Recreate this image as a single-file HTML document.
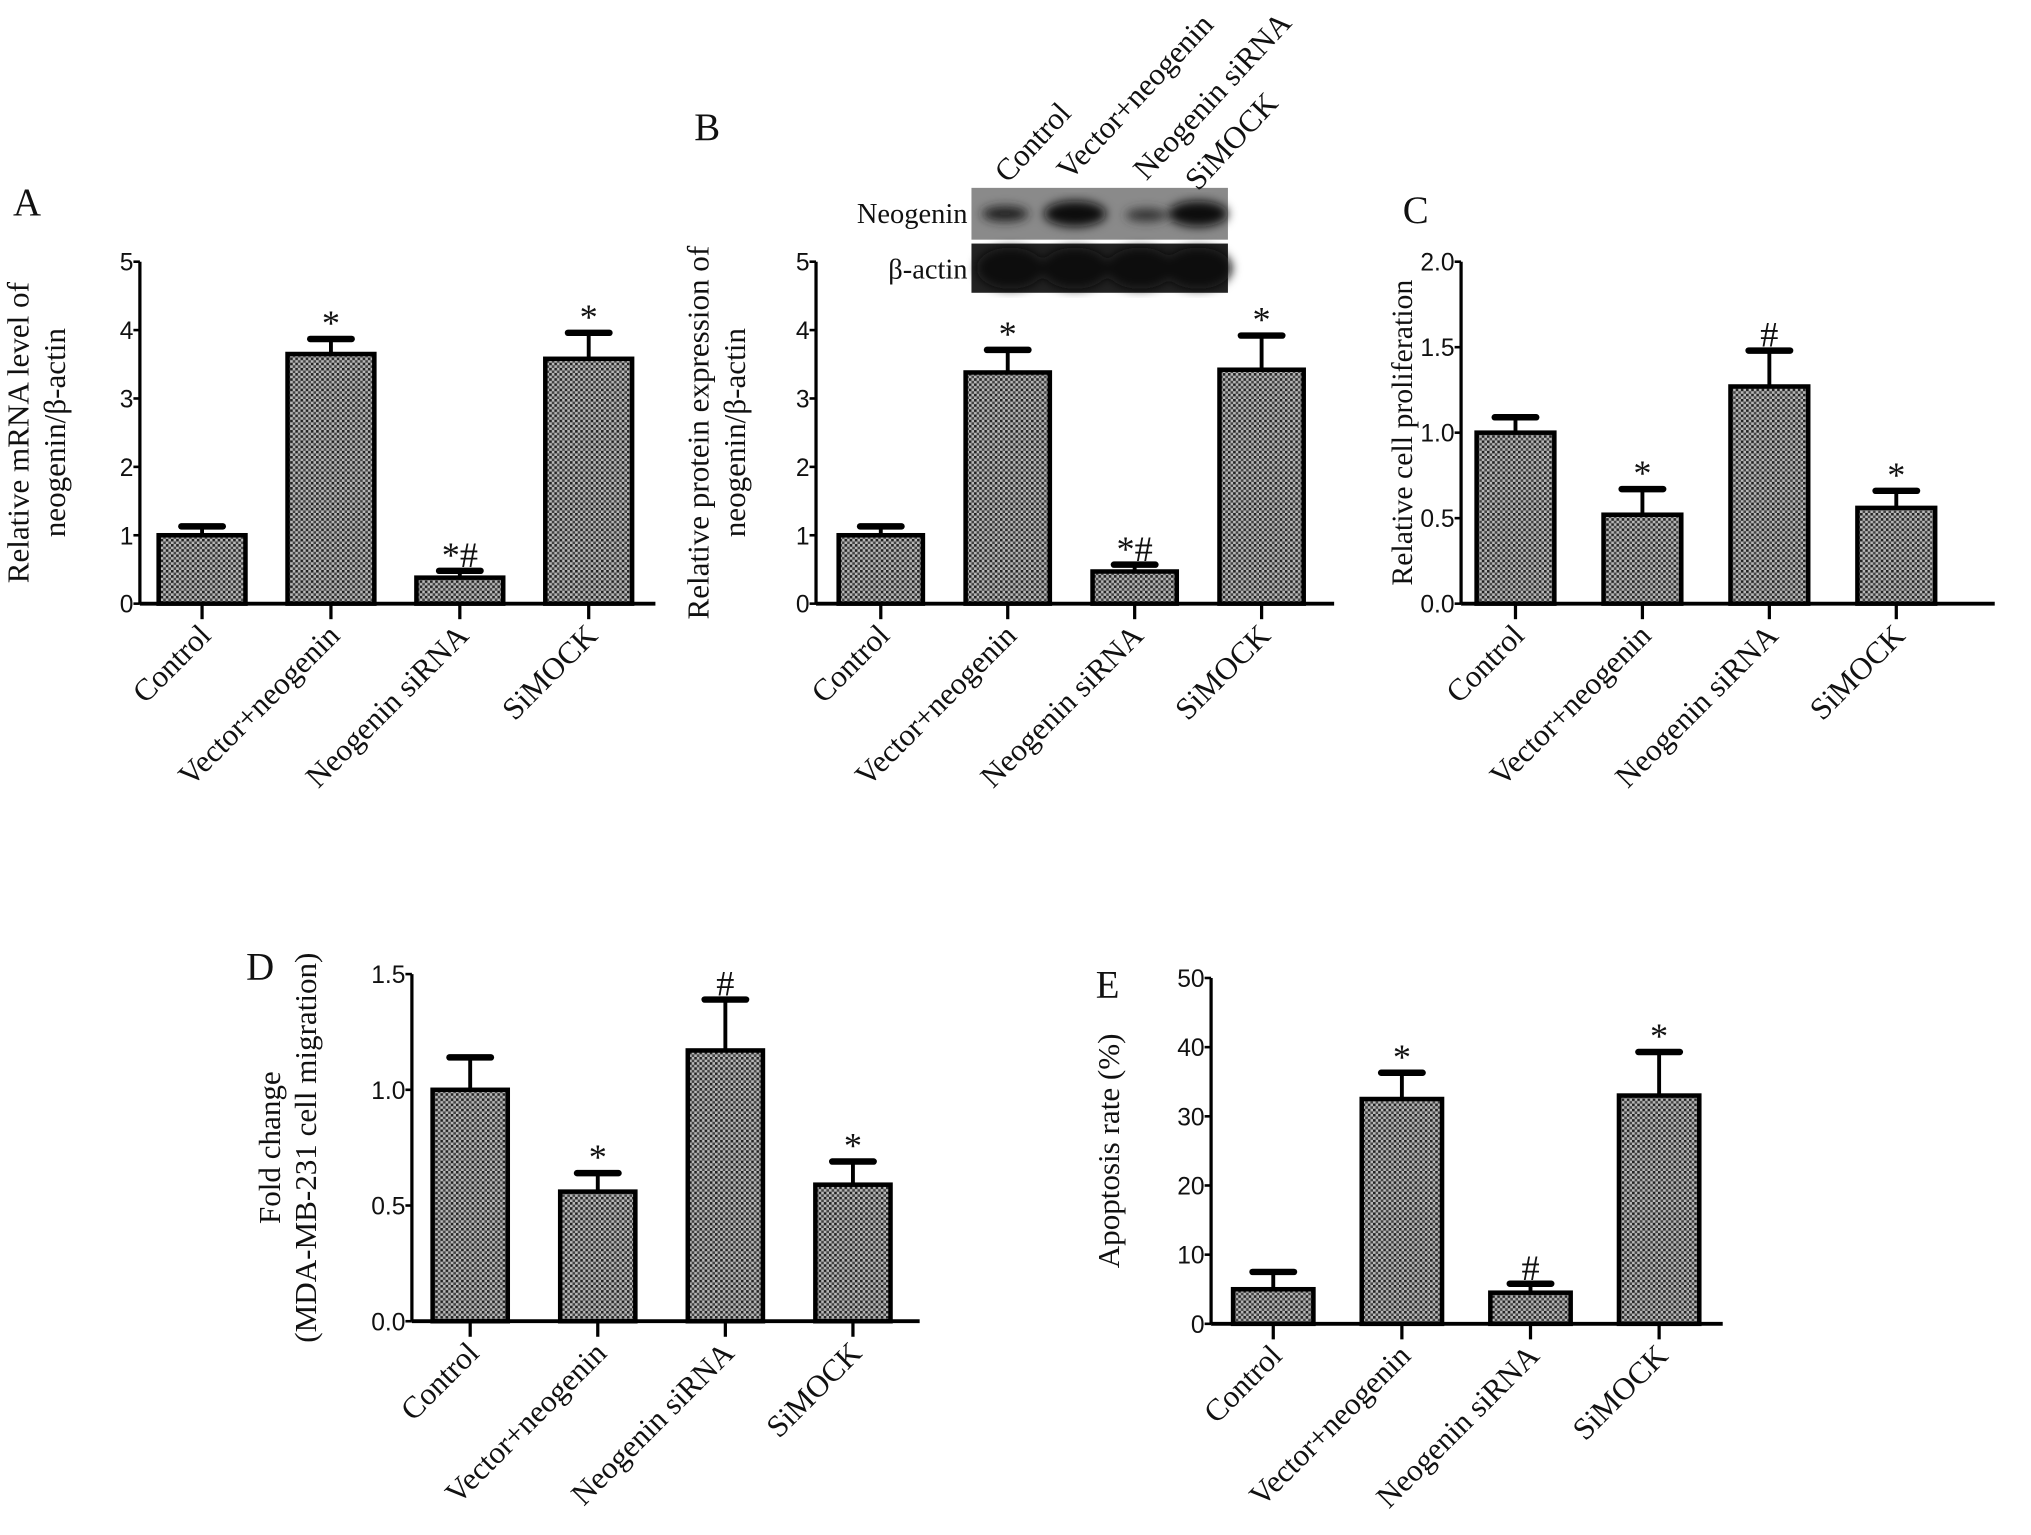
<!DOCTYPE html>
<html><head><meta charset="utf-8"><style>
html,body{margin:0;padding:0;background:#fff;}
svg{display:block;}
text{font-family:"Liberation Serif",serif;fill:#111;}
.tick{font-family:"Liberation Sans",sans-serif;font-size:19px;}
</style></head><body>
<svg id="fig" width="2031" height="1535" viewBox="0 0 1568 1185" xmlns="http://www.w3.org/2000/svg">
<defs>
<pattern id="dots" width="4" height="4" patternUnits="userSpaceOnUse">
<rect width="4" height="4" fill="#b8b8b8"/>
<rect x="0" y="0" width="2" height="2" fill="#222"/>
<rect x="2" y="2" width="2" height="2" fill="#444"/>
</pattern>
<filter id="blur"><feGaussianBlur stdDeviation="4"/></filter>
</defs>
<g id="blot">
<text x="747" y="172" text-anchor="end" font-size="22">Neogenin</text>
<text x="747" y="215" text-anchor="end" font-size="22">β-actin</text>
<rect x="750" y="145" width="198" height="40" fill="#8a8a8a"/>
<rect x="750" y="188" width="198" height="38" fill="#222"/>
<g filter="url(#blur)">
<ellipse cx="776" cy="165" rx="18" ry="6" fill="#222"/>
<ellipse cx="830" cy="165" rx="24" ry="10" fill="#111"/>
<ellipse cx="885" cy="166" rx="16" ry="5" fill="#333"/>
<ellipse cx="925" cy="165" rx="23" ry="10" fill="#111"/>
<ellipse cx="780" cy="207" rx="26" ry="16" fill="#0a0a0a"/>
<ellipse cx="830" cy="207" rx="26" ry="16" fill="#0a0a0a"/>
<ellipse cx="880" cy="207" rx="26" ry="16" fill="#0a0a0a"/>
<ellipse cx="925" cy="207" rx="26" ry="16" fill="#0a0a0a"/>
</g>
<text font-size="24" transform="translate(778,142) rotate(-47)">Control</text>
<text font-size="24" transform="translate(826,140) rotate(-47)">Vector+neogenin</text>
<text font-size="24" transform="translate(885,140) rotate(-47)">Neogenin siRNA</text>
<text font-size="24" transform="translate(925,148) rotate(-47)">SiMOCK</text>
</g>
</svg>
<script>
const categories = ["Control","Vector+neogenin","Neogenin siRNA","SiMOCK"];
const valuesA = [1.0, 3.65, 0.38, 3.58];
const errorsA = [0.13, 0.22, 0.10, 0.38];
const marksA = ["", "*", "*#", "*"];
const ticksA = ["0","1","2","3","4","5"];
const valuesB = [1.0, 3.38, 0.47, 3.42];
const errorsB = [0.13, 0.33, 0.10, 0.50];
const marksB = ["", "*", "*#", "*"];
const ticksB = ["0","1","2","3","4","5"];
const valuesC = [1.0, 0.52, 1.27, 0.56];
const errorsC = [0.09, 0.15, 0.21, 0.10];
const marksC = ["", "*", "#", "*"];
const ticksC = ["0.0","0.5","1.0","1.5","2.0"];
const valuesD = [1.0, 0.56, 1.17, 0.59];
const errorsD = [0.14, 0.08, 0.22, 0.10];
const marksD = ["", "*", "#", "*"];
const ticksD = ["0.0","0.5","1.0","1.5"];
const valuesE = [5.0, 32.5, 4.5, 33.0];
const errorsE = [2.5, 3.8, 1.3, 6.3];
const marksE = ["", "*", "#", "*"];
const ticksE = ["0","10","20","30","40","50"];

const NS = "http://www.w3.org/2000/svg";
const svg = document.getElementById("fig");
function mk(tag, attrs, parent, txt){
  const e = document.createElementNS(NS, tag);
  for (const k in attrs) e.setAttribute(k, attrs[k]);
  if (txt !== undefined) e.textContent = txt;
  parent.appendChild(e);
  return e;
}
function panel(p, values, errors, marks, ticks){
  const g = mk("g", {}, svg);
  
  
  const ymax = parseFloat(ticks[ticks.length-1]);
  const ys = v => p.y0 - (v / ymax) * (p.y0 - p.yTop);
  const xs = i => p.x0 + p.first + i * p.step;
  const letter = mk("text", {x:p.lx, y:p.ly, "font-size":30}, g, p.id.toUpperCase());
  
  
  const tt = mk("text", {transform:`translate(${p.tx},${(p.y0+p.yTop)/2}) rotate(-90)`, "text-anchor":"middle", "font-size":p.tfs || 24}, g);
  
  
  p.title.forEach((line, k) => {
    mk("tspan", {x:0, dy: k===0 ? (-(p.title.length-1)*14) : 28}, tt, line);
  });
  values.forEach((v, i) => {
    const cx = xs(i), yv = ys(v), ye = ys(v + errors[i]);
    const eb = mk("line", {x1:cx, x2:cx, y1:yv, y2:ye, stroke:"#000", "stroke-width":3}, g);
    
    
    const cap = mk("line", {x1:cx-16, x2:cx+16, y1:ye, y2:ye, stroke:"#000", "stroke-width":5, "stroke-linecap":"round"}, g);
    
    
    const b = mk("rect", {x:cx-p.bw/2, y:yv, width:p.bw, height:p.y0-yv, fill:"url(#dots)", stroke:"#000", "stroke-width":3.5}, g);
    
    
    if (marks[i]) {
      const m = mk("text", {x:cx, y:ye-3, "text-anchor":"middle", "font-size":28}, g, marks[i]);
      
      
    }
    const tk = mk("line", {x1:cx, x2:cx, y1:p.y0, y2:p.y0+12, stroke:"#000", "stroke-width":2.5}, g);
    
    
    const lb = mk("text", {transform:`translate(${cx+8},${p.y0+26}) rotate(-45)`, "text-anchor":"end", "font-size":24}, g, categories[i]);
    
    
  });
  const ya = mk("line", {x1:p.x0, x2:p.x0, y1:p.yTop, y2:p.y0, stroke:"#000", "stroke-width":2.5}, g);
  
  
  const xa = mk("line", {x1:p.x0, x2:p.xEnd, y1:p.y0, y2:p.y0, stroke:"#000", "stroke-width":3}, g);
  
  
  ticks.forEach(t => {
    const y = ys(parseFloat(t));
    mk("line", {x1:p.x0-5, x2:p.x0, y1:y, y2:y, stroke:"#000", "stroke-width":2}, g);
    const tl = mk("text", {x:p.x0-5, y:y+7, "text-anchor":"end", class:"tick"}, g, t);
    
    
  });
}
panel({id:"a", x0:108, xEnd:506, y0:466, yTop:202, first:48, step:99.5, bw:67, lx:10, ly:166, tx:36, title:["Relative mRNA level of","neogenin/β-actin"]}, valuesA, errorsA, marksA, ticksA);
panel({id:"b", x0:630, xEnd:1030, y0:466, yTop:202, first:50, step:98, bw:65, lx:536, ly:108, tx:561, title:["Relative protein expression of","neogenin/β-actin"]}, valuesB, errorsB, marksB, ticksB);
panel({id:"c", x0:1128, xEnd:1540, y0:466, yTop:202, first:42, step:98, bw:60, lx:1083, ly:172, tx:1090, tfs:23, title:["Relative cell proliferation"]}, valuesC, errorsC, marksC, ticksC);
panel({id:"d", x0:318, xEnd:710, y0:1020, yTop:752, first:45, step:98.5, bw:58, lx:190, ly:756, tx:230, title:["Fold change","(MDA-MB-231 cell migration)"]}, valuesD, errorsD, marksD, ticksD);
panel({id:"e", x0:935, xEnd:1330, y0:1022, yTop:755, first:48, step:99.3, bw:62, lx:846, ly:770, tx:864, title:["Apoptosis rate (%)"]}, valuesE, errorsE, marksE, ticksE);
</script>
</body></html>
